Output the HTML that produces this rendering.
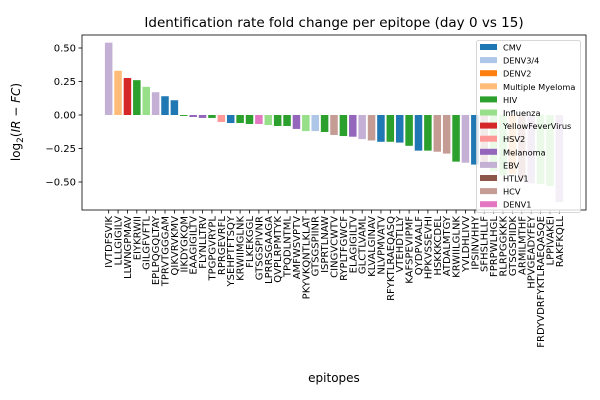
<!DOCTYPE html>
<html><head><meta charset="utf-8"><style>
body{margin:0;background:#fff;}
svg{display:block;font-family:"DejaVu Sans","Liberation Sans",sans-serif;}
</style></head><body>
<svg id="c" width="600" height="400"></svg>
<script>
const labels=["IVTDFSVIK","LLLGIGILV","LLWNGPMAV","EIYKRWII","GILGFVFTL","EPLPQGQLTAY","TPRVTGGGAM","QIKVRVKMV","IIKDYGKQM","EAAGIGILTV","FLYNLLTRV","TPGPGVRYPL","RPRGEVRFL","YSEHPTFTSQY","KRWIIMGLNK","FLKEKGGL","GTSGSPIVNR","LPRRSGAAGA","QVPLRPMTYK","TPQDLNTML","AMFWSVPTV","PKYVKQNTLKLAT","GTSGSPIINR","ISPRTLNAW","CINGVCWTV","RYPLTFGWCF","ELAGIGILTV","GLCTLVAML","KLVALGINAV","NLVPMVATV","RFYKTLRAEQASQ","VTEHDTLLY","KAFSPEVIPMF","QYDPVAALF","HPKVSSEVHI","HSKKKCDEL","ATDALMTGY","KRWIILGLNK","YVLDHLIVV","IPSINVHHY","SFHSLHLLF","FPRPWLHGL","RLRPGGKKK","GTSGSPIIDK","ARMILMTHF","HPVGEADYFEY","FRDYVDRFYKTLRAEQASQE","LPPIVAKEI","RAKFKQLL"];
const values=[0.54,0.33,0.276,0.26,0.21,0.17,0.14,0.11,-0.007,-0.015,-0.022,-0.022,-0.052,-0.06,-0.06,-0.067,-0.067,-0.075,-0.082,-0.082,-0.104,-0.12,-0.12,-0.127,-0.149,-0.157,-0.162,-0.18,-0.19,-0.2,-0.2,-0.206,-0.23,-0.266,-0.266,-0.274,-0.288,-0.348,-0.356,-0.37,-0.39,-0.42,-0.45,-0.44,-0.485,-0.51,-0.515,-0.53,-0.65];
const groups=["EBV","Multiple Myeloma","YellowFeverVirus","HIV","Influenza","EBV","CMV","CMV","HIV","Melanoma","Melanoma","HIV","HSV2","CMV","HIV","HIV","DENV1","Influenza","HIV","HIV","Melanoma","Influenza","DENV3/4","HIV","HCV","HIV","Melanoma","EBV","HCV","CMV","HIV","CMV","HIV","CMV","HIV","HCV","HCV","HIV","EBV","CMV","HCV","Influenza","Influenza","Multiple Myeloma","HCV","EBV","Influenza","Influenza","EBV"];
const legendNames=["CMV","DENV3/4","DENV2","Multiple Myeloma","HIV","Influenza","YellowFeverVirus","HSV2","Melanoma","EBV","HTLV1","HCV","DENV1"];
const legendColors=["#1f77b4","#aec7e8","#ff7f0e","#ffbb78","#2ca02c","#98df8a","#d62728","#ff9896","#9467bd","#c5b0d5","#8c564b","#c49c94","#e377c2"];
const yTicks=[0.5,0.25,0,-0.25,-0.5];
const yTickLabels=["0.50","0.25","0.00","−0.25","−0.50"];

const NS="http://www.w3.org/2000/svg";
const svg=document.getElementById("c");
const L=82,R=586,T=35,B=210;
const ymin=-0.709,ymax=0.597;
const n=labels.length;
const xmin=-0.4-0.05*(n-0.2),xmax=n-0.6+0.05*(n-0.2);
const X=v=>L+(v-xmin)/(xmax-xmin)*(R-L);
const Y=v=>T+(ymax-v)/(ymax-ymin)*(B-T);
function el(tag,attrs,parent){const e=document.createElementNS(NS,tag);for(const k in attrs)e.setAttribute(k,attrs[k]);(parent||svg).appendChild(e);return e;}
const col=g=>legendColors[legendNames.indexOf(g)];

const bars=el("g",{});


values.forEach((v,i)=>{
  const y0=Y(Math.max(v,0)),y1=Y(Math.min(v,0));
  const r=el("rect",{x:X(i-0.4),y:y0,width:X(i+0.4)-X(i-0.4),height:Math.max(y1-y0,0.5),fill:col(groups[i])},bars);
  
  
  const tk=el("line",{x1:X(i),x2:X(i),y1:B,y2:B+3.5,stroke:"#000","stroke-width":0.8});
  
  
  const t=el("text",{transform:`translate(${X(i)+3.5},${B+6}) rotate(-90)`,"text-anchor":"end","font-size":"10"});
  t.textContent=labels[i];
  
  
});
yTicks.forEach((v,i)=>{
  const tk=el("line",{x1:L-3.5,x2:L,y1:Y(v),y2:Y(v),stroke:"#000","stroke-width":0.8});
  
  
  const t=el("text",{x:L-6,y:Y(v)+3.5,"text-anchor":"end","font-size":"10"});
  t.textContent=yTickLabels[i];
  
  
});
const frame=el("rect",{x:L,y:T,width:R-L,height:B-T,fill:"none",stroke:"#000","stroke-width":0.8});



const lg=el("g",{});


el("rect",{x:476.5,y:40.5,width:104,height:172,rx:2,fill:"#fff","fill-opacity":0.8,stroke:"#ccc","stroke-width":0.8},lg);
legendNames.forEach((nm,i)=>{
  const yy=44+i*13.1;
  const p=el("rect",{x:480,y:yy,width:17,height:6,fill:legendColors[i]},lg);
  
  
  const t=el("text",{x:503,y:yy+6.5,"font-size":"8.2"},lg);
  t.textContent=nm;
  
  
});

const title=el("text",{x:334,y:27,"text-anchor":"middle","font-size":"13.5"});
title.textContent="Identification rate fold change per epitope (day 0 vs 15)";


const xl=el("text",{x:334,y:382,"text-anchor":"middle","font-size":"12"});
xl.textContent="epitopes";


const yl=el("text",{transform:"translate(20,122) rotate(-90)","text-anchor":"middle","font-size":"12"});
yl.innerHTML='log<tspan font-size="9" dy="3">2</tspan><tspan dy="-3">(</tspan><tspan font-style="italic">IR</tspan> − <tspan font-style="italic">FC</tspan>)';


</script>
</body></html>
